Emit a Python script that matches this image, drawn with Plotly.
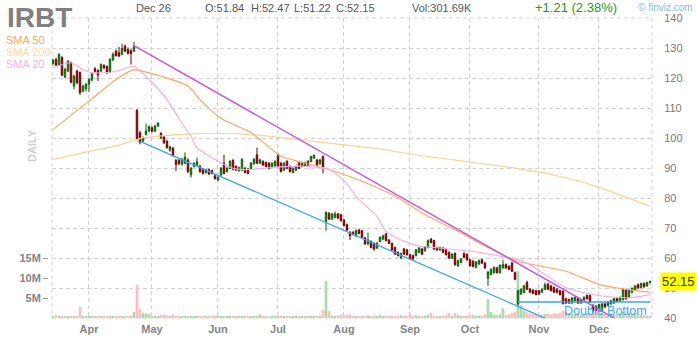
import pandas as pd
import plotly.graph_objects as go

# ---------------- data ----------------
ticker = "IRBT"
holidays = ["2019-04-19", "2019-05-27", "2019-07-04", "2019-09-02", "2019-11-28", "2019-12-25"]
dates = [d.strftime("%Y-%m-%d") for d in pd.bdate_range("2019-03-14", "2019-12-26", freq="C", holidays=holidays)]

opens = [124.8,126.2,124.5,126.8,120.3,122.3,125.1,117.3,122.3,121.8,115.6,116.4,117.9,119.3,123.1,122.5,122.3,124.2,123.8,122.0,
         126.0,129.0,128.4,127.9,130.6,129.5,129.1,129.0,109.2,101.8,99.0,101.2,102.3,103.4,102.3,104.0,101.5,100.4,98.9,96.0,
         96.6,92.5,92.5,91.2,91.6,92.7,87.7,90.5,91.0,90.5,89.6,88.5,89.4,89.1,87.4,86.0,87.7,91.6,88.8,89.9,
         92.5,90.5,89.1,89.3,89.9,89.6,89.9,91.4,94.4,91.6,92.2,91.8,91.6,90.5,90.7,94.1,91.6,89.3,92.2,90.5,
         88.5,89.3,91.6,90.5,90.7,92.2,92.2,93.3,92.7,91.4,93.8,72.2,74.9,73.0,73.5,74.7,74.4,72.6,71.1,68.5,
         68.5,67.4,69.3,69.1,66.7,64.7,65.5,64.9,63.3,65.5,66.3,68.0,66.0,64.9,63.5,61.9,60.0,63.0,62.7,61.1,
         60.8,60.8,61.9,63.0,62.4,63.5,66.3,65.8,63.5,62.7,63.3,62.7,61.9,60.0,61.5,57.4,58.5,61.5,61.2,59.4,
         58.9,56.9,58.0,59.4,58.3,53.2,54.5,55.1,56.7,55.1,56.7,57.8,57.2,58.3,55.1,44.7,48.0,48.5,51.8,49.6,
         49.3,49.1,49.1,48.6,49.6,51.3,50.7,50.2,49.6,49.1,48.9,46.4,46.1,45.0,45.8,46.4,45.0,45.8,47.5,47.5,
         44.2,43.9,42.8,42.6,44.7,44.2,44.7,45.0,46.4,45.8,46.1,49.3,46.9,48.6,49.3,51.1,50.2,51.5,50.7,51.84]
highs = [126.4,126.6,128.2,127.3,123.4,126.0,125.5,121.0,122.8,122.2,117.8,118.4,119.9,121.9,123.6,122.9,124.9,124.6,124.2,126.6,
         128.6,129.5,130.3,131.5,131.2,130.2,129.6,132.0,109.6,102.3,100.5,104.8,104.2,103.9,104.4,105.3,102.0,100.8,99.3,97.5,
         97.0,93.0,93.2,93.4,95.2,93.2,90.3,91.9,93.5,91.0,90.0,89.8,89.8,89.5,87.8,87.3,90.4,94.4,90.3,92.6,
         93.0,90.9,90.5,93.3,90.3,90.0,92.0,93.3,96.8,93.1,92.6,92.2,92.0,91.9,92.6,94.9,92.0,91.9,92.6,90.9,
         90.2,90.8,92.0,91.9,92.1,92.6,94.1,94.6,93.1,93.0,94.2,75.6,75.3,75.0,75.5,75.0,74.8,73.0,71.5,69.0,
         69.0,69.5,69.8,69.4,67.0,68.5,65.9,65.2,65.3,67.2,67.8,68.4,66.3,65.2,63.8,62.2,61.8,63.4,63.0,61.4,
         61.1,63.0,63.6,63.4,64.0,66.2,66.7,66.1,63.8,63.8,63.6,63.0,62.2,61.6,61.9,59.4,59.9,61.9,61.6,59.8,
         59.3,59.0,59.5,59.8,58.6,55.7,56.6,57.2,57.1,57.8,59.4,58.2,57.6,58.8,55.5,49.5,49.9,51.0,52.5,50.0,
         49.6,49.4,49.4,49.9,51.8,51.8,51.0,50.5,49.9,49.4,49.2,46.8,46.5,47.0,47.2,46.8,46.4,47.2,47.9,47.9,
         44.6,44.3,44.8,45.0,45.1,45.6,46.1,46.7,46.8,47.2,49.9,49.7,49.6,50.2,51.0,51.5,51.8,51.9,52.1,52.47]
lows = [124.2,124.0,124.0,120.6,119.9,122.0,118.2,116.2,118.0,114.4,115.2,115.5,115.4,118.9,121.8,119.0,122.0,123.0,121.4,121.7,
        125.7,127.1,127.0,127.6,128.6,127.8,124.5,128.6,99.2,97.9,98.6,100.8,101.9,101.8,102.0,103.7,99.6,98.0,96.4,95.4,
        93.8,89.0,91.0,90.8,91.2,88.3,86.8,90.1,90.6,88.4,87.8,88.1,87.6,87.8,86.1,85.6,87.3,87.9,88.5,89.6,
        89.2,89.0,88.8,89.0,88.2,87.9,89.6,91.1,91.3,91.3,90.7,90.2,89.6,90.2,90.4,90.2,88.5,89.0,89.6,88.5,
        88.2,89.0,89.6,90.2,90.4,90.7,91.9,93.0,90.7,91.1,88.2,69.1,72.6,72.7,73.2,73.0,72.2,70.5,69.0,66.0,
        67.5,67.0,67.9,66.6,64.4,64.3,63.2,62.4,63.0,65.2,66.0,65.5,64.6,62.4,61.0,60.5,59.6,61.0,60.8,59.4,
        59.4,60.5,61.6,61.0,62.1,63.2,64.9,62.7,62.4,62.4,61.6,60.8,59.6,59.7,57.4,57.0,58.2,59.9,59.1,57.1,
        56.9,56.5,57.7,58.0,56.4,50.7,54.2,54.8,54.8,54.8,56.4,56.4,55.9,55.3,52.6,44.2,47.6,48.2,49.3,48.3,
        47.9,47.5,47.7,48.3,49.3,49.3,48.8,48.3,48.3,47.5,44.5,44.6,44.7,44.7,45.5,44.7,44.7,45.5,46.1,45.0,
        41.9,42.2,42.5,42.3,43.4,43.9,44.4,44.7,45.3,45.5,45.8,46.1,46.6,48.3,49.0,49.7,49.9,50.1,50.4,51.22]
closes = [125.9,124.3,127.9,121.0,122.9,125.6,118.6,120.6,118.4,115.1,117.3,117.9,119.5,121.5,122.2,121.0,124.5,123.4,121.8,126.2,
          127.9,127.5,127.3,129.9,129.0,128.2,128.2,130.4,99.5,98.6,100.1,102.3,103.8,102.3,104.0,104.9,100.1,98.4,96.8,97.1,
          94.2,91.2,91.5,92.9,93.6,88.8,89.9,91.6,92.1,88.8,88.2,89.4,88.0,88.2,86.5,86.9,89.9,88.2,89.9,92.2,
          89.6,89.3,90.1,92.9,88.5,88.2,91.6,92.9,91.6,92.7,91.0,90.5,89.9,91.6,92.2,90.5,88.8,91.6,89.9,88.8,
          89.9,90.5,89.9,91.6,91.8,91.0,93.8,94.2,91.0,92.7,90.5,75.2,73.0,74.7,74.7,73.3,72.4,70.8,69.3,67.4,
          67.9,69.1,68.2,66.9,64.7,66.0,63.5,63.0,64.9,66.9,67.4,65.8,64.9,62.7,61.3,60.8,61.5,61.3,61.1,59.7,
          59.7,62.7,63.3,61.3,63.8,65.8,65.2,63.0,62.7,63.5,61.9,61.1,60.0,61.3,57.8,59.1,59.7,60.2,59.4,57.4,
          57.2,58.7,59.1,58.3,56.7,55.3,56.2,56.9,55.1,57.6,57.8,56.7,56.2,55.6,52.9,49.1,49.6,50.7,49.6,48.6,
          48.2,47.8,48.0,49.6,51.1,49.6,49.1,48.6,48.6,47.8,44.8,45.0,45.0,46.7,46.9,45.0,46.1,46.9,46.4,45.3,
          42.6,42.6,44.5,44.7,43.7,45.3,45.8,46.4,45.6,46.9,49.6,46.4,49.3,49.9,50.7,50.0,51.5,50.4,51.8,52.15]
volumes_m = [0.5,0.8,0.4,0.6,0.3,0.4,0.5,0.4,0.3,2.8,0.4,0.5,0.3,0.3,0.4,0.3,0.5,0.3,0.3,0.4,
             0.5,0.3,0.3,0.4,0.3,0.3,0.6,1.5,8.3,2.3,1.2,1.1,1.0,0.5,0.5,0.5,0.8,0.8,0.6,0.5,
             0.8,0.6,0.4,0.5,0.4,0.3,0.4,0.3,0.3,0.5,0.3,0.3,0.6,0.3,0.4,0.3,0.3,0.3,0.3,0.5,
             0.4,0.3,0.3,0.4,0.3,0.3,0.3,0.4,0.3,0.9,0.3,0.3,0.2,0.3,0.3,0.4,0.3,0.4,0.3,0.3,
             0.4,0.3,0.3,0.4,0.3,0.4,0.3,0.5,0.5,0.6,2.0,9.3,1.8,0.6,0.6,0.6,0.9,0.7,0.8,0.9,
             0.6,0.5,0.4,0.5,0.6,0.7,0.5,0.6,0.4,0.8,0.5,0.5,0.4,0.6,0.5,0.6,0.7,0.5,0.4,1.0,
             0.6,0.7,0.5,0.4,0.6,0.7,1.3,0.6,0.5,0.5,0.6,0.7,1.2,0.6,1.2,0.7,0.5,0.5,0.6,0.7,
             0.8,0.6,0.5,0.5,0.9,4.7,1.5,0.9,0.8,0.9,2.4,0.8,0.9,1.2,1.6,11.7,3.2,1.8,1.4,1.2,
             1.0,0.9,0.8,0.8,1.0,1.1,0.8,1.2,1.0,1.3,1.8,1.5,1.2,1.0,0.9,1.1,0.8,0.9,1.2,1.0,
             1.8,1.4,1.2,1.3,1.0,0.9,1.0,0.9,0.8,1.0,1.5,1.2,1.3,1.1,1.0,0.9,0.8,0.7,0.6,0.3]

# moving averages (bar index, value)
sma50_idx = [0, 12, 21, 27, 32, 36, 45, 49, 56, 66, 76, 82, 92, 103, 115, 123, 136, 142, 155, 171, 182, 190, 199]
sma50_val = [102.8, 112.3, 119.5, 122.8, 121.7, 120.6, 117.3, 112.8, 106.5, 101.8, 93.9, 92.2, 89.5, 85.6, 80.1, 75.0,
             68.4, 65.0, 58.9, 55.6, 51.2, 49.7, 48.6]
sma200_idx = [0, 10, 21, 30, 42, 50, 60, 70, 80, 92, 109, 120, 137, 153, 165, 176, 187, 199]
sma200_val = [92.8, 95.1, 97.3, 100.1, 101.2, 101.5, 101.5, 100.8, 99.6, 98.2, 96.4, 94.5, 92.3, 90.1, 88.1, 85.5, 81.8, 77.3]
sma20_idx = [0, 6, 10, 13, 19, 23, 27, 32, 38, 42, 46, 48, 53, 57, 61, 66, 72, 83, 92, 97, 102, 108, 111, 117, 122,
             128, 136, 142, 149, 155, 161, 170, 177, 186, 193, 199]
sma20_val = [123.4, 125.1, 122.8, 121.7, 121.9, 122.8, 123.9, 119.5, 112.8, 106.5, 100.6, 96.7, 93.4, 91.2, 89.7, 89.5,
             90.1, 90.6, 89.5, 85.8, 79.5, 73.9, 68.9, 65.6, 64.0, 63.4, 62.6, 61.9, 60.6, 59.7, 56.5, 50.6, 48.4,
             47.0, 46.8, 47.8]

# trend lines (bar index, price)
resistance_idx = [27, 190]
resistance_val = [130.8, 38.3]
channel_idx = [29, 165]
channel_val = [98.9, 39.5]
support_idx = [155, 199]
support_val = [45.3, 45.3]

month_labels = ["Apr", "May", "Jun", "Jul", "Aug", "Sep", "Oct", "Nov", "Dec"]
price_ticks = [40, 50, 60, 70, 80, 90, 100, 110, 120, 130, 140]
vol_ticks_m = [5, 10, 15]
header = {"date": "Dec 26", "O": "51.84", "H": "52.47", "L": "51.22", "C": "52.15",
          "vol": "301.69K", "chg": "+1.21 (2.38%)"}
last_close = closes[-1]

assert len(dates) == len(opens) == len(highs) == len(lows) == len(closes) == len(volumes_m)

# ---------------- layout helpers ----------------
W, H = 698, 340
ML, MR, MT, MB = 44, 46, 18, 22
PW, PH = W - ML - MR, H - MT - MB


def px(x):
    return (x - ML) / PW


def py(y):
    return (H - MB - y) / PH


FONT = "Liberation Sans, Arial, sans-serif"
GRID = "#d2d2d2"
DASH = "4px,3px"

month_starts = []
seen = set()
for d in dates:
    m = d[:7]
    if m not in seen:
        seen.add(m)
        month_starts.append(d)
month_starts = month_starts[1:]  # first visible gridline is April

fig = go.Figure()

# volume (base axis, drawn underneath)
vol_colors = ["#a9dca9" if c >= o else "#ffbdbd" for o, c in zip(opens, closes)]
fig.add_trace(go.Bar(x=dates, y=[v * 1e6 for v in volumes_m], marker=dict(color=vol_colors, line=dict(width=0)),
                     width=0.9, yaxis="y", xaxis="x", hoverinfo="skip"))

# moving averages
fig.add_trace(go.Scatter(x=[dates[i] for i in sma200_idx], y=sma200_val, mode="lines",
                         line=dict(color="#f5d594", width=1.2), yaxis="y2", hoverinfo="skip"))
fig.add_trace(go.Scatter(x=[dates[i] for i in sma50_idx], y=sma50_val, mode="lines",
                         line=dict(color="#ffa562", width=1.2, shape="spline", smoothing=0.6), yaxis="y2", hoverinfo="skip"))
fig.add_trace(go.Scatter(x=[dates[i] for i in sma20_idx], y=sma20_val, mode="lines",
                         line=dict(color="#f5a9e6", width=1.1, shape="spline", smoothing=0.6), yaxis="y2", hoverinfo="skip"))

# trend lines
fig.add_trace(go.Scatter(x=[dates[i] for i in resistance_idx], y=resistance_val, mode="lines",
                         line=dict(color="#c452d8", width=1.4), yaxis="y2", hoverinfo="skip"))
fig.add_trace(go.Scatter(x=[dates[i] for i in channel_idx], y=channel_val, mode="lines",
                         line=dict(color="#3aa4e6", width=1.3), yaxis="y2", hoverinfo="skip"))
fig.add_trace(go.Scatter(x=[dates[i] for i in support_idx], y=support_val, mode="lines",
                         line=dict(color="#3aa4e6", width=1.5), yaxis="y2", hoverinfo="skip"))

# candles
fig.add_trace(go.Candlestick(
    x=dates, open=opens, high=highs, low=lows, close=closes, yaxis="y2", xaxis="x",
    increasing=dict(fillcolor="#1fbf1f", line=dict(color="#0d5c0d", width=1)),
    decreasing=dict(fillcolor="#d30f0f", line=dict(color="#6a0000", width=1)),
    whiskerwidth=0, hoverinfo="skip"))

annotations = []


def txt(text, x, y, size, color, xanchor="left", bold=False, yanchor="middle", **kw):
    t = f"<b>{text}</b>" if bold else text
    annotations.append(dict(text=t, x=px(x), y=py(y), xref="paper", yref="paper", xanchor=xanchor,
                            yanchor=yanchor, showarrow=False, font=dict(family=FONT, size=size, color=color), **kw))


txt(ticker, 6, 0.5, 28, "#808080", bold=True, yanchor="top", borderpad=0)
txt(header["date"], 134, 8, 11, "#555555")
txt("O:" + header["O"], 203, 8, 11, "#555555")
txt("H:" + header["H"], 249, 8, 11, "#555555")
txt("L:" + header["L"], 292, 8, 11, "#555555")
txt("C:" + header["C"], 334, 8, 11, "#555555")
txt("Vol:" + header["vol"], 410, 8, 11, "#555555")
txt(header["chg"], 533, 8, 13, "#1c9a1c")
txt("© finviz.com", 636, 7, 10, "#86b8e8")
txt("SMA 50", 4, 40, 11, "#ffa566")
txt("SMA 200", 4, 52, 11, "#ffd9a0")
txt("SMA 20", 4, 64, 11, "#f6b2e8")
txt("DAILY", 32, 146, 11, "#cfcfcf", xanchor="center", bold=True, textangle=-90)
txt("Double Bottom", 605, 311, 12.5, "#3fa6ee", xanchor="center")

annotations.append(dict(text=f"{last_close:.2f}", x=px(660), y=last_close, xref="paper", yref="y2",
                        xanchor="left", yanchor="middle", showarrow=False, bgcolor="#ffff00", borderpad=1,
                        font=dict(family=FONT, size=13, color="#333333")))

fig.update_layout(
    width=W, height=H, margin=dict(l=ML, r=MR, t=MT, b=MB, autoexpand=False),
    paper_bgcolor="white", plot_bgcolor="white", showlegend=False,
    font=dict(family=FONT),
    xaxis=dict(type="category", domain=[8 / PW, 1], range=[-0.33, len(dates) - 0.33],
               tickmode="array", tickvals=month_starts, ticktext=month_labels,
               showgrid=True, gridcolor=GRID, griddash=DASH, gridwidth=1,
               tickfont=dict(family=FONT, size=11, color="#858585", weight="bold"),
               ticks="", ticklabelstandoff=3, showline=False, zeroline=False, automargin=False,
               rangeslider=dict(visible=False), anchor="y"),
    yaxis=dict(range=[0, 75e6], anchor="free", position=4 / PW, side="left", automargin=False,
               tickmode="array", tickvals=[v * 1e6 for v in vol_ticks_m], ticktext=[f"{v}M" for v in vol_ticks_m],
               ticks="outside", ticklen=5, tickcolor="#9a9a9a", showgrid=False, zeroline=False, showline=False,
               tickfont=dict(family=FONT, size=11, color="#858585", weight="bold")),
    yaxis2=dict(range=[40, 140], overlaying="y", side="right", anchor="x", automargin=False,
                tickmode="array", tickvals=price_ticks, ticktext=[str(v) for v in price_ticks],
                showgrid=True, gridcolor=GRID, griddash=DASH, gridwidth=1,
                ticks="outside", ticklen=9, tickcolor="rgba(0,0,0,0)",
                tickfont=dict(family=FONT, size=11, color="#7a7a7a"), zeroline=False, showline=False),
    annotations=annotations,
    shapes=[dict(type="rect", xref="paper", yref="paper", x0=8 / PW, x1=1, y0=0, y1=1,
                 line=dict(color=GRID, width=1, dash=DASH), layer="below")],
)

fig.write_html("out.html")
